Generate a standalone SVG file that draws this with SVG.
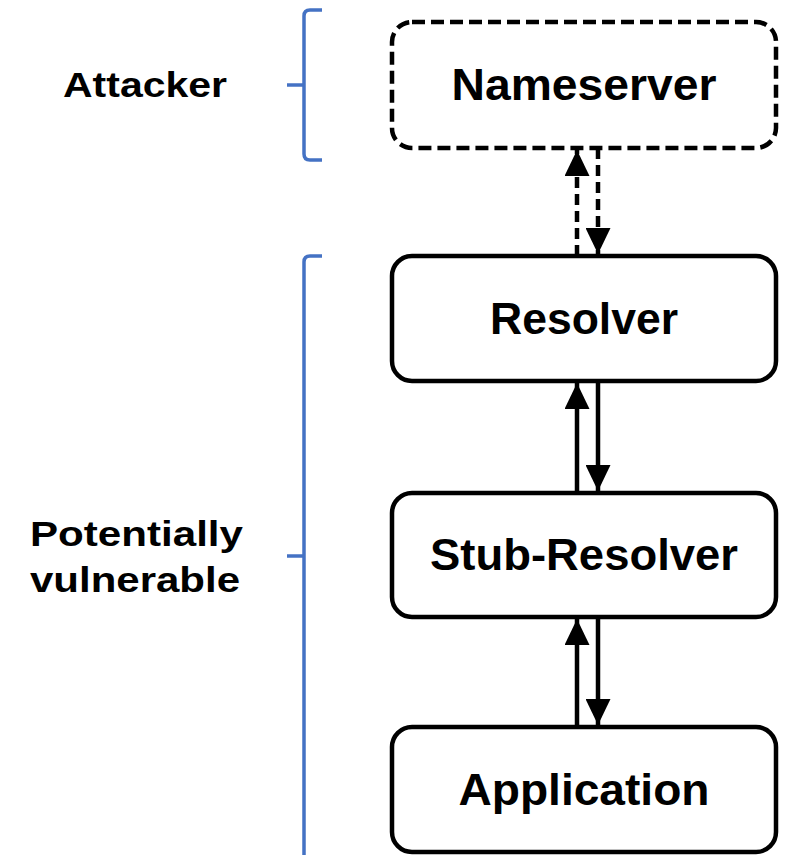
<svg xmlns="http://www.w3.org/2000/svg" width="789" height="855" viewBox="0 0 789 855">
<style>
.box{fill:#fff;stroke:#000;stroke-width:4.5}
.dash{stroke-dasharray:13 6}
.lbl{font-family:"Liberation Sans",Arial,sans-serif;font-weight:bold;font-size:44px;fill:#000;text-anchor:middle}
.side{font-family:"Liberation Sans",Arial,sans-serif;font-weight:bold;font-size:35px;fill:#000}
.br{fill:none;stroke:#4472C4;stroke-width:3.5}
.ln{stroke:#000;stroke-width:4.5;fill:none}
.dl{stroke-dasharray:11 6}
</style>
<defs>
<marker id="ah" viewBox="0 0 26 25" refX="26" refY="12.5" markerWidth="26" markerHeight="25" markerUnits="userSpaceOnUse" orient="auto">
<path d="M0,0 L26,12.5 L0,25 Z" fill="#000"/>
</marker>
</defs>
<rect width="789" height="855" fill="#fff"/>
<g id="brackets">
<path class="br" d="M322,10 H310 Q304,10 304,16 V154 Q304,160 310,160 H322"/>
<path class="br" d="M287,85 H304"/>
<path class="br" d="M322,256 H310 Q304,256 304,262 V855"/>
<path class="br" d="M287,556 H304"/>
</g>
<g id="labels">
<text class="side" x="63" y="97" textLength="164" lengthAdjust="spacingAndGlyphs">Attacker</text>
<text class="side" x="30" y="546" textLength="213" lengthAdjust="spacingAndGlyphs">Potentially</text>
<text class="side" x="30" y="592" textLength="210" lengthAdjust="spacingAndGlyphs">vulnerable</text>
</g>
<g id="connectors">
<line class="ln dl" x1="577" y1="256" x2="577" y2="150" marker-end="url(#ah)"/>
<line class="ln dl" x1="598" y1="148" x2="598" y2="254" marker-end="url(#ah)"/>
<line class="ln" x1="577" y1="493" x2="577" y2="383" marker-end="url(#ah)"/>
<line class="ln" x1="598" y1="381" x2="598" y2="491" marker-end="url(#ah)"/>
<line class="ln" x1="577" y1="727" x2="577" y2="619" marker-end="url(#ah)"/>
<line class="ln" x1="598" y1="617" x2="598" y2="725" marker-end="url(#ah)"/>
</g>
<g id="nameserver">
<rect class="box dash" x="392" y="22" width="384" height="126" rx="20"/>
<text class="lbl" x="584" y="100" textLength="265" lengthAdjust="spacingAndGlyphs">Nameserver</text>
</g>
<g id="resolver">
<rect class="box" x="392" y="256" width="384" height="125" rx="20"/>
<text class="lbl" x="584" y="334" textLength="188" lengthAdjust="spacingAndGlyphs">Resolver</text>
</g>
<g id="stub-resolver">
<rect class="box" x="392" y="493" width="384" height="124" rx="20"/>
<text class="lbl" x="584" y="570" textLength="308" lengthAdjust="spacingAndGlyphs">Stub-Resolver</text>
</g>
<g id="application">
<rect class="box" x="392" y="727" width="384" height="125" rx="20"/>
<text class="lbl" x="584" y="805" textLength="251" lengthAdjust="spacingAndGlyphs">Application</text>
</g>
</svg>
